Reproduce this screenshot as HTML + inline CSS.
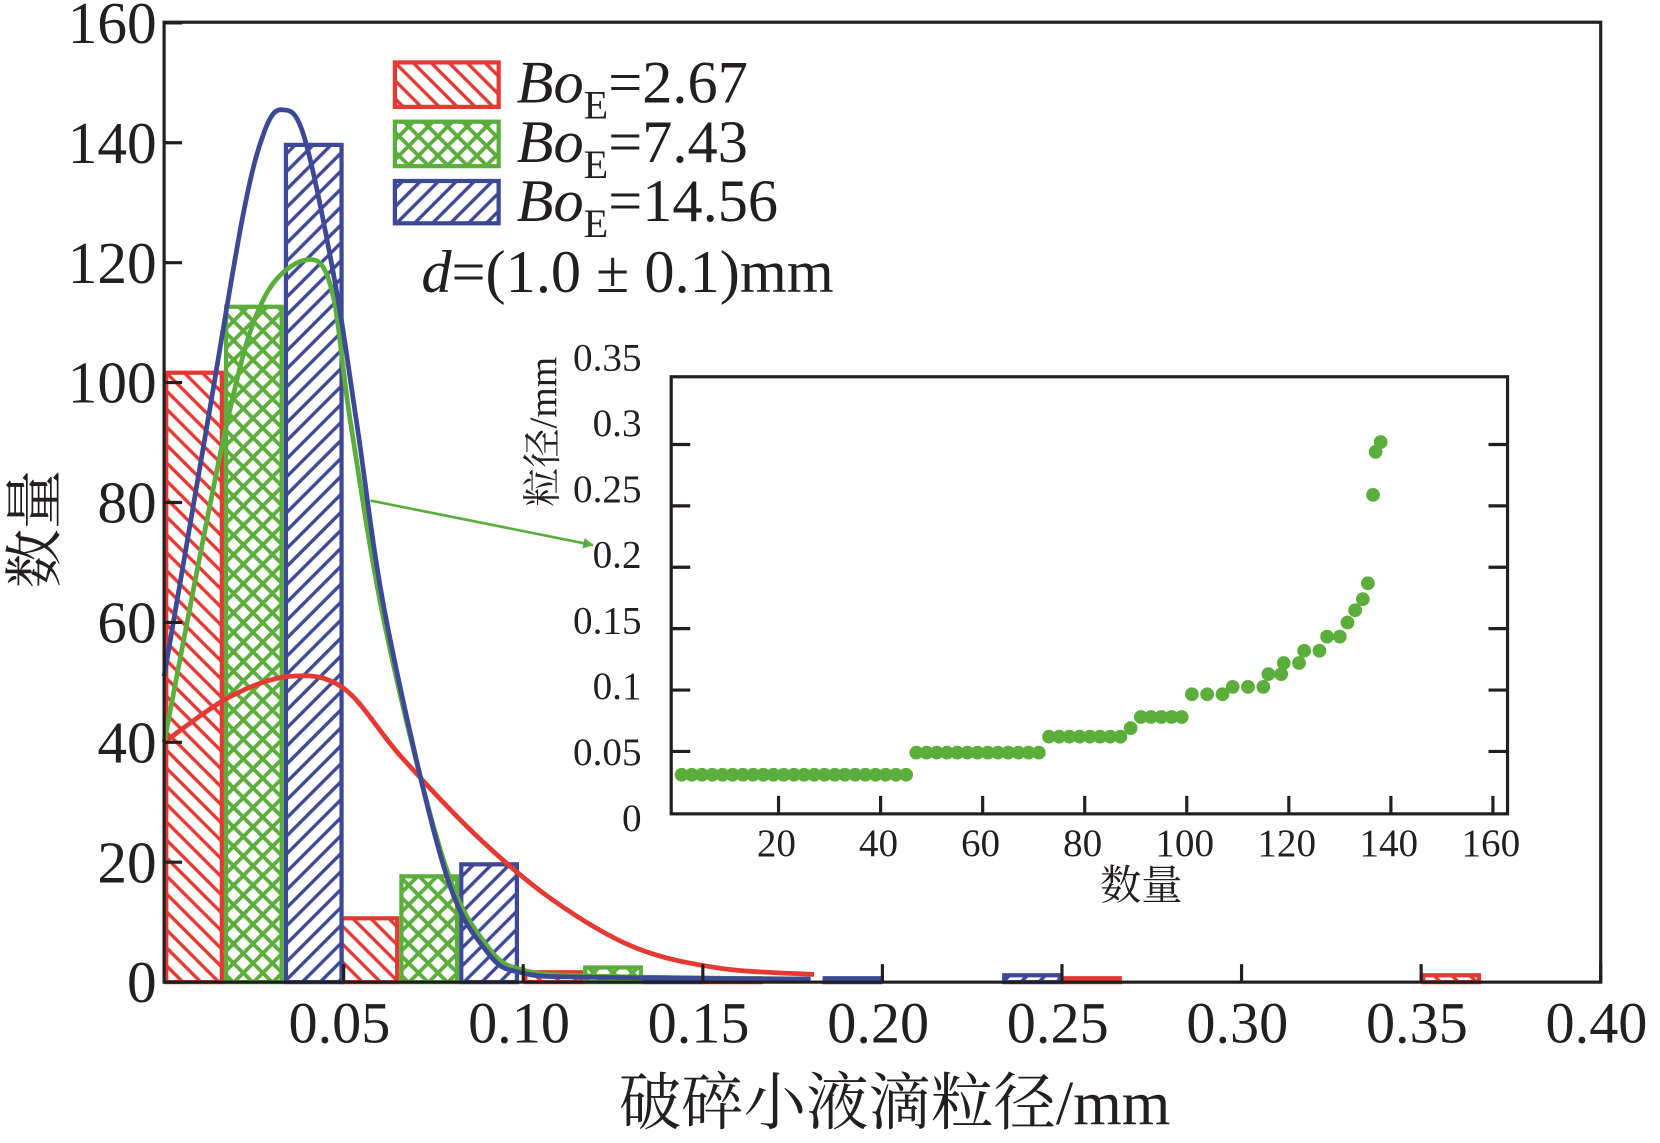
<!DOCTYPE html>
<html><head><meta charset="utf-8">
<style>
html,body{margin:0;padding:0;background:#fff;}
svg{display:block;}
text{font-family:"Liberation Serif","Noto Serif CJK SC",serif;fill:#231f20;}
</style></head>
<body>
<svg id="chart" width="1660" height="1143" viewBox="0 0 1568 1080" preserveAspectRatio="none" xmlns="http://www.w3.org/2000/svg">
<defs>
<pattern id="hatchRed" patternUnits="userSpaceOnUse" width="12" height="12" patternTransform="rotate(-45)">
<line x1="6" y1="0" x2="6" y2="12" stroke="#e53a33" stroke-width="3.2"/></pattern>
<pattern id="hatchBlue" patternUnits="userSpaceOnUse" width="12" height="12" patternTransform="rotate(45)">
<line x1="6" y1="0" x2="6" y2="12" stroke="#3d4996" stroke-width="3.2"/></pattern>
<pattern id="hatchGreen" patternUnits="userSpaceOnUse" width="13" height="13" patternTransform="rotate(45)">
<line x1="6.5" y1="0" x2="6.5" y2="13" stroke="#5bae3c" stroke-width="3.6"/>
<line x1="0" y1="6.5" x2="13" y2="6.5" stroke="#5bae3c" stroke-width="3.6"/></pattern>
<marker id="arrowHead" markerWidth="10" markerHeight="10" refX="9" refY="5" orient="auto" markerUnits="userSpaceOnUse">
<path d="M0,0 L10,5 L0,10 z" fill="#5bae3c"/></marker>
</defs>
<g id="bars"></g>
<g id="curves"></g>
<g id="axes"></g>
<g id="legend">
<rect x="373" y="59" width="98" height="42" fill="url(#hatchRed)" stroke="#e53a33" stroke-width="4"/>
<rect x="373" y="115" width="98" height="42" fill="url(#hatchGreen)" stroke="#5bae3c" stroke-width="4"/>
<rect x="373" y="171" width="98" height="40" fill="url(#hatchBlue)" stroke="#3d4996" stroke-width="4"/>
<text x="488" y="97" font-size="57"><tspan font-style="italic">Bo</tspan><tspan font-size="38" dy="15">E</tspan><tspan dy="-15">=2.67</tspan></text>
<text x="488" y="153" font-size="57"><tspan font-style="italic">Bo</tspan><tspan font-size="38" dy="15">E</tspan><tspan dy="-15">=7.43</tspan></text>
<text x="488" y="209" font-size="57"><tspan font-style="italic">Bo</tspan><tspan font-size="38" dy="15">E</tspan><tspan dy="-15">=14.56</tspan></text>
<text x="398" y="276" font-size="57"><tspan font-style="italic">d</tspan>=(1.0 ± 0.1)mm</text>
</g>
<line x1="350" y1="473" x2="560" y2="515" stroke="#5bae3c" stroke-width="2.5" marker-end="url(#arrowHead)"/>
<rect x="634" y="356" width="790" height="413" fill="#fff" stroke="#231f20" stroke-width="3"/>
<g id="inset"></g>
</svg>
<script>
// ---- main histogram data ----
const binStarts = [0, 0.05, 0.10, 0.15, 0.20, 0.25, 0.30, 0.35];
const countsBo267 = [102, 11, 2, 1, 0, 1, 0, 1.5];
const countsBo743 = [113, 18, 2.8, 0, 0, 0, 0, 0];
const countsBo1456 = [140, 20, 1, 1, 1.5, 0, 0, 0];
const yTicks = [0, 20, 40, 60, 80, 100, 120, 140, 160];
const xTicks = [0.05, 0.10, 0.15, 0.20, 0.25, 0.30, 0.35, 0.40];
const xTickLabels = ["0.05", "0.10", "0.15", "0.20", "0.25", "0.30", "0.35", "0.40"];
// fitted curves
const fitRedX = [0, 0.018, 0.035, 0.05, 0.066, 0.087, 0.108, 0.131, 0.155, 0.181];
const fitRedY = [40, 47.5, 51, 49, 37.6, 24.4, 13.8, 5.8, 2.3, 1.3];
const fitGreenX = [0, 0.0174, 0.0276, 0.0398, 0.0467, 0.052, 0.062, 0.078, 0.09, 0.10, 0.12, 0.18];
const fitGreenY = [40, 93, 113.8, 120.5, 115.4, 93, 58, 20, 6, 2, 1, 0.5];
const fitBlueX = [0, 0.012, 0.022, 0.028, 0.033, 0.039, 0.0476, 0.0537, 0.062, 0.078, 0.09, 0.10, 0.12, 0.18];
const fitBlueY = [51, 93, 128, 142, 145.5, 141, 116.7, 93, 60, 19, 5, 1.5, 0.8, 0.5];
// ---- inset data ----
const insetCount = [1,3,5,7,9,11,13,15,17,19,21,23,25,27,29,31,33,35,37,39,41,43,45,
 47,49,51,53,55,57,59,61,63,65,67,69,71,
 73,75,77,79,81,83,85,87,
 89,91,93,95,97,99,
 101,104,107,109,112,115,116,118.5,119,122,123,126,127.5,130,131.5,133,134.5,135.5,136.5,137,138];
const insetSize = [0.031,0.031,0.031,0.031,0.031,0.031,0.031,0.031,0.031,0.031,0.031,0.031,0.031,0.031,0.031,0.031,0.031,0.031,0.031,0.031,0.031,0.031,0.031,
 0.049,0.049,0.049,0.049,0.049,0.049,0.049,0.049,0.049,0.049,0.049,0.049,0.049,
 0.062,0.062,0.062,0.062,0.062,0.062,0.062,0.062,
 0.069,0.078,0.078,0.078,0.078,0.078,
 0.0966,0.0966,0.0966,0.1026,0.1026,0.1026,0.113,0.113,0.122,0.122,0.132,0.132,0.1435,0.1435,0.155,0.165,0.174,0.187,0.259,0.294,0.302];
const insetYTicks = [0.05, 0.1, 0.15, 0.2, 0.25, 0.3];
const insetYLabels = ["0", "0.05", "0.1", "0.15", "0.2", "0.25", "0.3", "0.35"];
const insetYLabelVals = [0, 0.05, 0.1, 0.15, 0.2, 0.25, 0.3, 0.35];
const insetXTicks = [20, 40, 60, 80, 100, 120, 140, 160];

const NS = "http://www.w3.org/2000/svg";
const X = v => 155 + v * 3392.5;
const Y = v => 928 - v * 5.665;
const IX = n => 639 + n * 4.82;
const IY = v => 768 - v * 1160;
const ILY = v => 773 - v / 0.35 * 435;
function mk(tag, attrs, parent) {
  const e = document.createElementNS(NS, tag);
  for (const k in attrs) e.setAttribute(k, attrs[k]);
  parent.appendChild(e);
  return e;
}
const bars = document.getElementById('bars');
const binW = 0.05 / 3;
const series = [
  {vals: countsBo267, fill: 'url(#hatchRed)', stroke: '#e53a33', name: 'bar-bo-2-67'},
  {vals: countsBo743, fill: 'url(#hatchGreen)', stroke: '#5bae3c', name: 'bar-bo-7-43'},
  {vals: countsBo1456, fill: 'url(#hatchBlue)', stroke: '#3d4996', name: 'bar-bo-14-56'}
];
series.forEach((s, si) => {
  binStarts.forEach((b, i) => {
    const v = s.vals[i];
    if (!v) return;
    const shift = i === 1 ? -4 : 0;
    const x0 = X(b + si * binW) + shift, x1 = X(b + (si + 1) * binW) + shift;
    const r = mk('rect', {x: x0 + 2, y: Y(v) + 2, width: x1 - x0 - 4, height: Math.max(Y(0) - Y(v) - 2, 1), fill: s.fill, stroke: s.stroke, 'stroke-width': 4}, bars);
    
    
  });
});
function smoothPath(xs, ys, fx, fy) {
  const p = xs.map((x, i) => [fx(x), fy(ys[i])]);
  let d = `M${p[0][0]},${p[0][1]}`;
  for (let i = 0; i < p.length - 1; i++) {
    const p0 = p[Math.max(i - 1, 0)], p1 = p[i], p2 = p[i + 1], p3 = p[Math.min(i + 2, p.length - 1)];
    const c1 = [p1[0] + (p2[0] - p0[0]) / 6, p1[1] + (p2[1] - p0[1]) / 6];
    const c2 = [p2[0] - (p3[0] - p1[0]) / 6, p2[1] - (p3[1] - p1[1]) / 6];
    d += ` C${c1[0]},${c1[1]} ${c2[0]},${c2[1]} ${p2[0]},${p2[1]}`;
  }
  return d;
}
const curves = document.getElementById('curves');
const c1 = mk('path', {d: smoothPath(fitRedX, fitRedY, X, Y), fill: 'none', stroke: '#e53a33', 'stroke-width': 4.5}, curves);


const c2 = mk('path', {d: smoothPath(fitGreenX, fitGreenY, X, Y), fill: 'none', stroke: '#5bae3c', 'stroke-width': 4.5}, curves);


const c3 = mk('path', {d: smoothPath(fitBlueX, fitBlueY, X, Y), fill: 'none', stroke: '#3d4996', 'stroke-width': 4.5}, curves);



const axes = document.getElementById('axes');
const frame = mk('rect', {x: 155, y: 21, width: 1357, height: 907, fill: 'none', stroke: '#231f20', 'stroke-width': 3}, axes);


yTicks.forEach(v => {
  const t = mk('line', {x1: 155, x2: 172, y1: Y(v), y2: Y(v), stroke: '#231f20', 'stroke-width': 3}, axes);
  
  
  const l = mk('text', {x: 148, y: Y(v) + 19, 'font-size': 56, 'text-anchor': 'end'}, axes);
  l.textContent = String(v);
  
  
});
xTicks.forEach((v, i) => {
  const t = mk('line', {x1: X(v), x2: X(v), y1: 928, y2: 911, stroke: '#231f20', 'stroke-width': 3}, axes);
  
  
  const l = mk('text', {x: X(v) - 4, y: 985, 'font-size': 55, 'text-anchor': 'middle'}, axes);
  l.textContent = xTickLabels[i];
  
  
});
const xt = mk('text', {x: 845, y: 1062, 'font-size': 59, 'text-anchor': 'middle'}, axes);
xt.textContent = '破碎小液滴粒径/mm';


const yt = mk('text', {x: 0, y: 0, 'font-size': 56, 'text-anchor': 'middle', transform: 'translate(52,500) rotate(-90)'}, axes);
yt.textContent = '数量';



// inset
const inset = document.getElementById('inset');
insetYTicks.forEach(v => {
  const a = mk('line', {x1: 634, x2: 652, y1: IY(v), y2: IY(v), stroke: '#231f20', 'stroke-width': 3}, inset);
  
  
  const b = mk('line', {x1: 1424, x2: 1406, y1: IY(v), y2: IY(v), stroke: '#231f20', 'stroke-width': 3}, inset);
  
  
});
insetYLabelVals.forEach((v, i) => {
  const l = mk('text', {x: 606, y: ILY(v) + 12, 'font-size': 37, 'text-anchor': 'end'}, inset);
  l.textContent = insetYLabels[i];
  
  
});
insetXTicks.forEach(v => {
  if (IX(v) < 1420) {
    const t = mk('line', {x1: IX(v), x2: IX(v), y1: 769, y2: 752, stroke: '#231f20', 'stroke-width': 3}, inset);
    
    
  }
  const l = mk('text', {x: IX(v) - 2, y: 809, 'font-size': 37, 'text-anchor': 'middle'}, inset);
  l.textContent = String(v);
  
  
});
const ixt = mk('text', {x: 1078, y: 850, 'font-size': 39, 'text-anchor': 'middle'}, inset);
ixt.textContent = '数量';


const iyt = mk('text', {x: 0, y: 0, 'font-size': 37, 'text-anchor': 'middle', transform: 'translate(525,408) rotate(-90)'}, inset);
iyt.textContent = '粒径/mm';


insetCount.forEach((n, i) => {
  const c = mk('circle', {cx: IX(n), cy: IY(insetSize[i]), r: 6.5, fill: '#5bae3c'}, inset);
  
  
});
</script>
</body></html>
